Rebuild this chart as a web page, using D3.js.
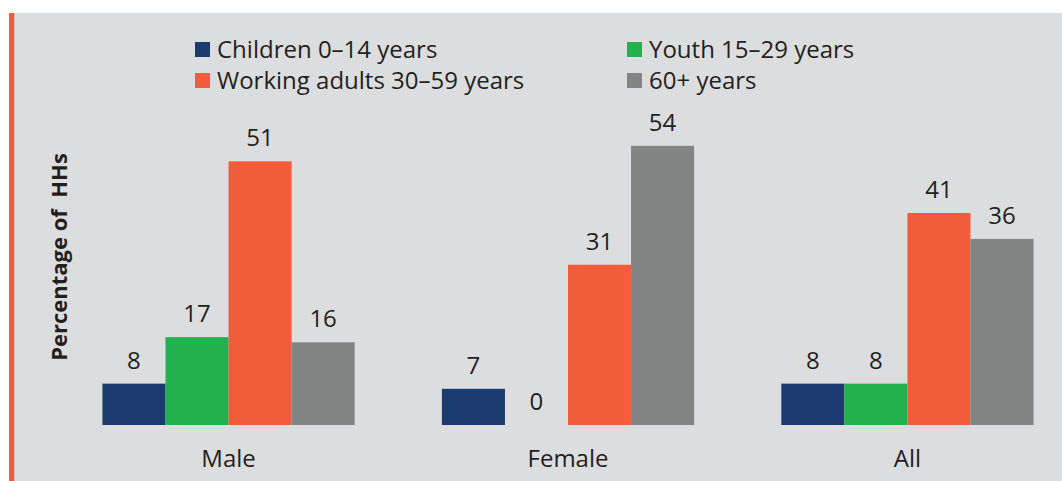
<!DOCTYPE html>
<html>
<head>
<meta charset="utf-8">
<script src="https://cdn.jsdelivr.net/npm/d3@7"></script>
<style>
  html, body { margin: 0; padding: 0; background: #ffffff; }
  svg { display: block; }
  text { font-family: "Open Sans", Lato, sans-serif; fill: #231f20; }
</style>
</head>
<body>
<svg id="chart" width="1062" height="481"></svg>
<script>
// Household heads by age group, per sex of household head (% of HHs)
const categories = ["Male", "Female", "All"];
const seriesNames = ["Children 0–14 years", "Youth 15–29 years", "Working adults 30–59 years", "60+ years"];
const children = [8, 7, 8];
const youth = [17, 0, 8];
const workingAdults = [51, 31, 41];
const older = [16, 54, 36];
const seriesValues = [children, youth, workingAdults, older];
const colors = ["#1b3a6e", "#22b14c", "#f15d3b", "#838584"];
const yTitle = "Percentage of\u00a0 HHs";

const W = 1062, H = 481;
const svg = d3.select("#chart");

// panel background and accent rule on the left
svg.append("rect").attr("x", 15).attr("y", 13).attr("width", W - 15).attr("height", H - 13).attr("fill", "#dcdddf");
svg.append("rect").attr("x", 9).attr("y", 13).attr("width", 5).attr("height", H - 13).attr("fill", "#f15d3b");
svg.append("rect").attr("x", 14).attr("y", 13).attr("width", 1).attr("height", H - 13).attr("fill", "#c9c3c0");

const baseY = 425;
const x0 = d3.scaleBand().domain(categories).range([59, 1077]).paddingInner(0.257).paddingOuter(0.128);
const x1 = d3.scaleBand().domain(d3.range(seriesNames.length)).range([0, x0.bandwidth()]);
const y = d3.scaleLinear().domain([0, 60]).range([baseY, baseY - 60 * 5.17]);

const rows = categories.map((c, i) => ({ cat: c, vals: seriesValues.map((s, k) => ({ k, v: s[i] })) }));

const g = svg.append("g");
const groups = g.selectAll("g.grp").data(rows).join("g")
  .attr("class", "grp")
  .attr("transform", d => `translate(${x0(d.cat)},0)`);

groups.selectAll("rect").data(d => d.vals.filter(e => e.v > 0)).join("rect")
  .attr("x", d => x1(d.k))
  .attr("width", x1.bandwidth())
  .attr("y", d => y(d.v))
  .attr("height", d => y(0) - y(d.v))
  .attr("fill", d => colors[d.k]);

groups.selectAll("text.val").data(d => d.vals).join("text")
  .attr("class", "val")
  .attr("x", d => x1(d.k) + x1.bandwidth() / 2)
  .attr("y", d => y(d.v) - 15)
  .attr("text-anchor", "middle")
  .attr("font-size", 24)
  .text(d => d3.format("d")(d.v));

// category axis
const xAxis = d3.axisBottom(x0).tickSize(0).tickPadding(0);
const ax = svg.append("g").attr("transform", `translate(0,${baseY})`).call(xAxis);
ax.select(".domain").remove();
ax.selectAll("text").attr("y", 42).attr("dy", 0).attr("font-size", 24)
  .style("font-family", "'Open Sans', Lato, sans-serif").attr("fill", "#231f20");

// y-axis title
svg.append("text")
  .attr("transform", `translate(67,257) rotate(-90)`)
  .attr("text-anchor", "middle")
  .attr("font-size", 22)
  .attr("font-weight", "bold")
  .text(yTitle);

// legend, two columns
const legendPos = [[195, 42], [627, 42], [195, 73], [627, 73]];
const lg = svg.append("g").selectAll("g").data(seriesNames).join("g")
  .attr("transform", (d, i) => `translate(${legendPos[i][0]},${legendPos[i][1]})`);
lg.append("rect").attr("width", 15).attr("height", 15).attr("fill", (d, i) => colors[i]);
lg.append("text").attr("x", 22).attr("y", 15.5).attr("font-size", 24).text(d => d);
</script>
</body>
</html>
